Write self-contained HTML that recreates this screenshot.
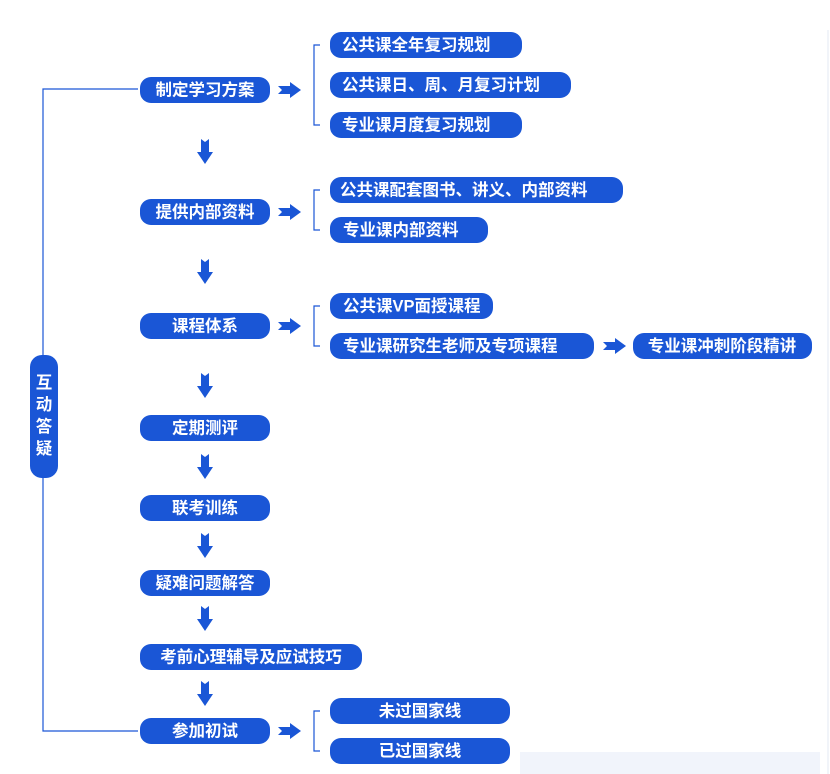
<!DOCTYPE html>
<html><head><meta charset="utf-8"><style>
html,body{margin:0;padding:0;background:#fff;width:830px;height:774px;overflow:hidden}
svg text{font-family:"Liberation Sans","Noto Sans CJK SC",sans-serif;font-weight:bold;fill:#fff;font-size:16.5px;dominant-baseline:central}
</style></head><body>
<svg width="830" height="774" viewBox="0 0 830 774" xmlns="http://www.w3.org/2000/svg">
<defs>
<g id="ra"><path d="M0,-4 L12,-4 L12,-8 L23,0 L12,8 L12,4 L0,4 L4,0 Z" fill="#1a56d6"/></g>
<g id="da"><path d="M-4,0 L0,3 L4,0 L4,13 L8,13 L0,25 L-8,13 L-4,13 Z" fill="#1a56d6"/></g>
</defs>
<line x1="828" y1="30" x2="828" y2="774" stroke="#e3e8f3" stroke-width="1"/>
<rect x="520" y="752" width="300" height="22" fill="#f1f4fb"/>
<polyline points="138,89 43,89 43,731 138,731" fill="none" stroke="#1a56d6" stroke-width="1.2"/>
<rect x="30" y="355" width="28" height="123" rx="12" fill="#1a56d6"/>
<text x="44" y="383" text-anchor="middle">互</text>
<text x="44" y="405" text-anchor="middle">动</text>
<text x="44" y="427" text-anchor="middle">答</text>
<text x="44" y="449" text-anchor="middle">疑</text>
<g fill="#1a56d6">
<rect x="140" y="77" width="130" height="26" rx="11"/>
<rect x="140" y="199" width="130" height="26" rx="11"/>
<rect x="140" y="313" width="130" height="26" rx="11"/>
<rect x="140" y="415" width="130" height="26" rx="11"/>
<rect x="140" y="495" width="130" height="26" rx="11"/>
<rect x="140" y="570" width="130" height="26" rx="11"/>
<rect x="140" y="644" width="222" height="26" rx="11"/>
<rect x="140" y="718" width="130" height="26" rx="11"/>
<rect x="330" y="32" width="192" height="26" rx="11"/>
<rect x="330" y="72" width="241" height="26" rx="11"/>
<rect x="330" y="112" width="192" height="26" rx="11"/>
<rect x="330" y="177" width="293" height="26" rx="11"/>
<rect x="330" y="217" width="158" height="26" rx="11"/>
<rect x="330" y="293" width="163" height="26" rx="11"/>
<rect x="330" y="333" width="264" height="26" rx="11"/>
<rect x="633" y="333" width="179" height="26" rx="11"/>
<rect x="330" y="698" width="180" height="26" rx="11"/>
<rect x="330" y="738" width="180" height="26" rx="11"/>
</g>
<text x="205" y="90.5" text-anchor="middle">制定学习方案</text>
<text x="205" y="212.5" text-anchor="middle">提供内部资料</text>
<text x="205" y="326.5" text-anchor="middle">课程体系</text>
<text x="205" y="428.5" text-anchor="middle">定期测评</text>
<text x="205" y="508.5" text-anchor="middle">联考训练</text>
<text x="205" y="583.5" text-anchor="middle">疑难问题解答</text>
<text x="251" y="657.5" text-anchor="middle">考前心理辅导及应试技巧</text>
<text x="205" y="731.5" text-anchor="middle">参加初试</text>
<text x="342" y="45.5">公共课全年复习规划</text>
<text x="342" y="85.5">公共课日、周、月复习计划</text>
<text x="342" y="125.5">专业课月度复习规划</text>
<text x="340" y="190.5">公共课配套图书、讲义、内部资料</text>
<text x="343" y="230.5">专业课内部资料</text>
<text x="343" y="306.5">公共课VP面授课程</text>
<text x="343" y="346.5">专业课研究生老师及专项课程</text>
<text x="722" y="346.5" text-anchor="middle">专业课冲刺阶段精讲</text>
<text x="420" y="711.5" text-anchor="middle">未过国家线</text>
<text x="420" y="751.5" text-anchor="middle">已过国家线</text>
<g fill="none" stroke="#1a56d6" stroke-width="1.2">
<polyline points="320,45 314,45 314,125 320,125"/>
<polyline points="320,190 314,190 314,230 320,230"/>
<polyline points="320,306 314,306 314,346 320,346"/>
<polyline points="320,711 314,711 314,751 320,751"/>
</g>
<use href="#ra" x="278" y="90"/>
<use href="#ra" x="278" y="212"/>
<use href="#ra" x="278" y="326"/>
<use href="#ra" x="278" y="731"/>
<use href="#ra" x="603" y="346"/>
<use href="#da" x="205" y="139"/>
<use href="#da" x="205" y="259"/>
<use href="#da" x="205" y="373"/>
<use href="#da" x="205" y="454"/>
<use href="#da" x="205" y="533"/>
<use href="#da" x="205" y="606"/>
<use href="#da" x="205" y="681"/>
</svg>
</body></html>
